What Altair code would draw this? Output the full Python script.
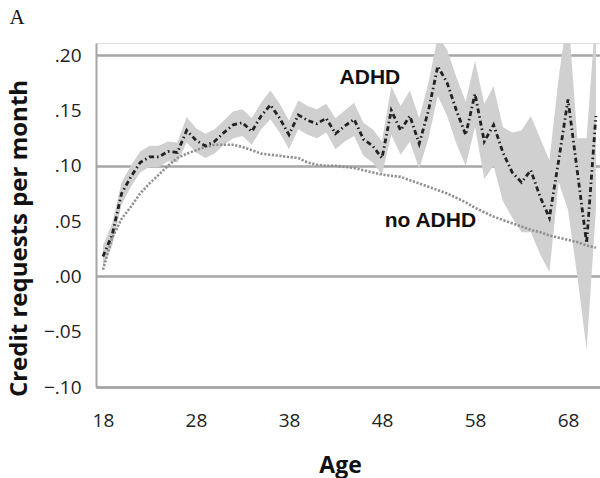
import altair as alt
import pandas as pd

ages = list(range(18, 72))

adhd_mean = [0.018, 0.038, 0.075, 0.090, 0.103, 0.108, 0.108, 0.113, 0.112, 0.132,
             0.123, 0.118, 0.122, 0.130, 0.137, 0.139, 0.131, 0.145, 0.155, 0.143,
             0.128, 0.146, 0.141, 0.138, 0.143, 0.129, 0.136, 0.142, 0.124, 0.118,
             0.107, 0.150, 0.132, 0.145, 0.120, 0.150, 0.190, 0.175, 0.150, 0.128,
             0.165, 0.122, 0.137, 0.112, 0.094, 0.085, 0.096, 0.072, 0.053, 0.105,
             0.160, 0.095, 0.030, 0.145]

adhd_lo = [0.008, 0.028, 0.065, 0.081, 0.094, 0.099, 0.099, 0.104, 0.103, 0.121,
           0.112, 0.107, 0.111, 0.119, 0.125, 0.127, 0.119, 0.133, 0.142, 0.130,
           0.115, 0.133, 0.128, 0.125, 0.130, 0.115, 0.122, 0.127, 0.109, 0.103,
           0.092, 0.128, 0.110, 0.122, 0.097, 0.125, 0.163, 0.145, 0.120, 0.100,
           0.135, 0.088, 0.100, 0.068, 0.053, 0.040, 0.040, 0.020, 0.004, 0.085,
           0.060, 0.000, -0.066, 0.060]

adhd_hi = [0.028, 0.048, 0.085, 0.100, 0.113, 0.118, 0.118, 0.122, 0.121, 0.144,
           0.134, 0.129, 0.133, 0.141, 0.149, 0.151, 0.143, 0.157, 0.168, 0.156,
           0.141, 0.159, 0.154, 0.151, 0.156, 0.143, 0.150, 0.157, 0.139, 0.133,
           0.122, 0.172, 0.154, 0.168, 0.143, 0.175, 0.217, 0.205, 0.180, 0.158,
           0.195, 0.156, 0.172, 0.135, 0.130, 0.132, 0.145, 0.125, 0.105, 0.180,
           0.240, 0.125, 0.125, 0.240]

no_adhd = [0.006, 0.035, 0.052, 0.063, 0.075, 0.084, 0.092, 0.100, 0.107, 0.111,
           0.114, 0.117, 0.119, 0.119, 0.119, 0.117, 0.114, 0.111, 0.110, 0.109,
           0.108, 0.107, 0.103, 0.101, 0.100, 0.100, 0.099, 0.098, 0.096, 0.094,
           0.092, 0.091, 0.090, 0.087, 0.084, 0.081, 0.078, 0.075, 0.071, 0.067,
           0.062, 0.058, 0.054, 0.051, 0.048, 0.045, 0.042, 0.040, 0.037, 0.035,
           0.033, 0.031, 0.028, 0.026]

x_ticks = [18, 28, 38, 48, 58, 68]
y_ticks = [-0.10, -0.05, 0.00, 0.05, 0.10, 0.15, 0.20]

series_labels = ["ADHD", "no ADHD"]
label_age = [46.7, 53.2]
label_val = [0.179, 0.050]
panel = ["A"]

df = pd.DataFrame({"age": ages, "mean": adhd_mean, "lo": adhd_lo,
                   "hi": adhd_hi, "no": no_adhd})
lab_df = pd.DataFrame({"t": series_labels, "age": label_age, "v": label_val})
panel_df = pd.DataFrame({"t": panel})

LABEL_FONT = "Open Sans"
xscale = alt.Scale(domain=[17.25, 71.44], nice=False, zero=False)
yscale = alt.Scale(domain=[-0.10, 0.211], nice=False, zero=False)

xaxis = alt.Axis(values=x_ticks, title="Age", grid=False, ticks=False,
                 domainColor="#a6a6a6", domainWidth=2.5,
                 labelFont=LABEL_FONT, labelFontSize=19, labelColor="#222222",
                 labelPadding=24, labelFlush=False,
                 titleFont=LABEL_FONT, titleFontSize=23, titleFontWeight="bold",
                 titleColor="#111111", titleX=244, titleY=78,
                 titleBaseline="middle", titleAlign="center")
yaxis = alt.Axis(values=y_ticks, title="Credit requests per month",
                 ticks=False, domainColor="#a6a6a6", domainWidth=2,
                 grid=True, gridColor="#a6a6a6", gridWidth=2.5,
                 gridOpacity={"condition": {"test": "abs(round(datum.value*20)) % 2 == 0",
                                            "value": 1}, "value": 0},
                 labelExpr="replace(format(datum.value, '.2f'), '0.', '.')",
                 labelFont=LABEL_FONT, labelFontSize=19, labelColor="#222222",
                 labelPadding=15,
                 titleFont=LABEL_FONT, titleFontSize=24, titleFontWeight="bold",
                 titleColor="#111111", titleAngle=-90, titleX=-77, titleY=195,
                 titleBaseline="middle", titleAlign="center")


def X(field):
    return alt.X(f"{field}:Q", scale=xscale, axis=xaxis)


def Y(field):
    return alt.Y(f"{field}:Q", scale=yscale, axis=yaxis)


band = alt.Chart(df).mark_area(color="#d0d0d0", clip=True).encode(
    x=X("age"), y=Y("lo"), y2="hi:Q")

line_no = alt.Chart(df).mark_line(color="#909090", strokeWidth=2.6,
                                  strokeDash=[2.2, 1.6], clip=True).encode(
    x=X("age"), y=Y("no"))

line_adhd = alt.Chart(df).mark_line(color="#222222", strokeWidth=2.8,
                                    strokeDash=[5, 3, 1.5, 3], clip=True).encode(
    x=X("age"), y=Y("mean"))

labels = alt.Chart(lab_df).mark_text(font="Liberation Sans", fontSize=21,
                                     fontWeight="bold", color="#111111").encode(
    x=X("age"), y=Y("v"), text="t:N")

panel_lbl = alt.Chart(panel_df).mark_text(font="Liberation Serif", fontSize=21,
                                          color="#111111").encode(
    x=alt.value(-79), y=alt.value(-25), text="t:N")

chart = alt.layer(band, line_no, line_adhd, labels, panel_lbl).properties(
    width=504, height=344,
    autosize=alt.AutoSizeParams(type="none"),
    padding={"left": 96, "top": 43, "right": 0, "bottom": 91},
).configure_view(stroke=None).configure(background="white")

chart.save("out.html", embed_options={"renderer": "svg", "actions": False})
